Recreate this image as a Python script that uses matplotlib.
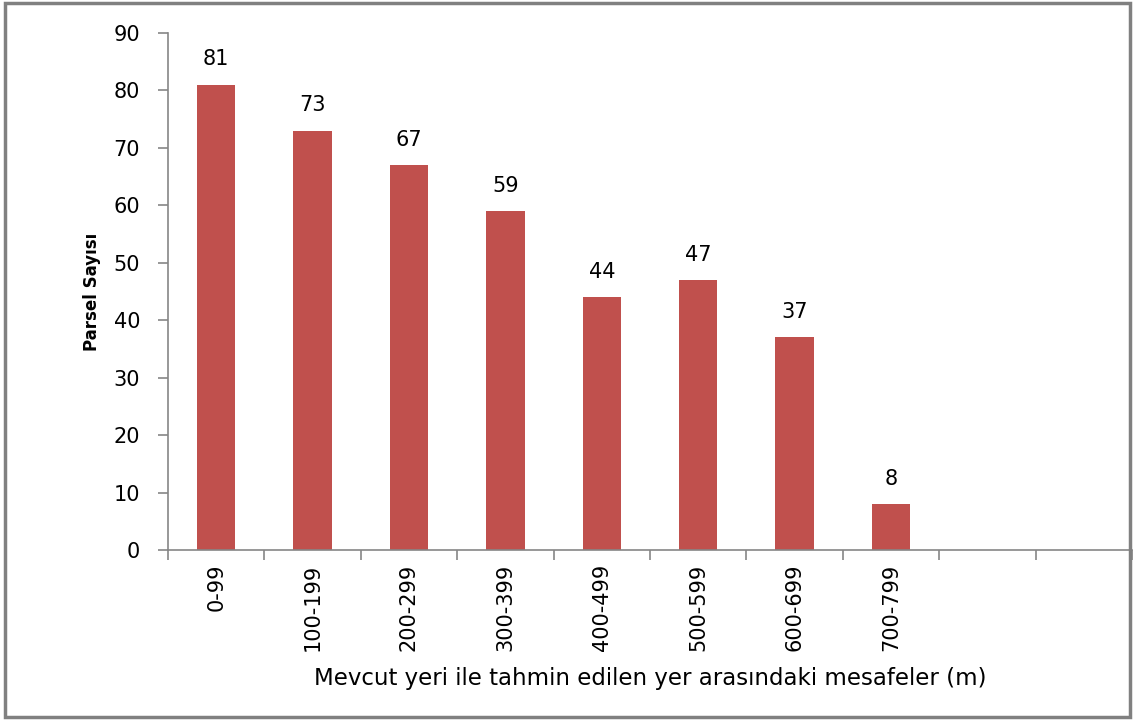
import matplotlib
matplotlib.use("Agg")
import matplotlib.pyplot as plt

categories = ["0-99", "100-199", "200-299", "300-399", "400-499", "500-599", "600-699", "700-799", "", ""]
values = [81, 73, 67, 59, 44, 47, 37, 8, None, None]
yticks = [0, 10, 20, 30, 40, 50, 60, 70, 80, 90]

bar_color = "#C0504D"
axis_color = "#868686"

fig = plt.figure(figsize=(11.33, 7.2), dpi=100)
ax = fig.add_axes([168/1133, 1-550/720, (1132-168)/1133, (550-33)/720])

n = len(categories)
xs = [i + 0.5 for i in range(n)]
for x, v in zip(xs, values):
    if v is None:
        continue
    ax.bar(x, v, width=0.4, color=bar_color, zorder=2)
    ax.annotate(str(v), (x, v), xytext=(0, 11), textcoords="offset points",
                ha="center", va="bottom", fontsize=15, color="black")

ax.set_xlim(0, n)
ax.set_ylim(0, 90)
ax.set_yticks(yticks)
ax.set_yticklabels([str(t) for t in yticks])
ax.set_xticks(range(n + 1))
ax.set_xticklabels([])
ax.set_xticks(xs, minor=True)
ax.set_xticklabels(categories, minor=True, rotation=90, fontsize=15, va="top")
ax.tick_params(axis="x", which="minor", length=0, pad=10)
ax.tick_params(axis="x", which="major", length=7, color=axis_color, width=1.2, direction="out")
ax.tick_params(axis="y", length=7, color=axis_color, width=1.2, direction="out", pad=13, labelsize=15)

for s in ["top", "right"]:
    ax.spines[s].set_visible(False)
for s in ["left", "bottom"]:
    ax.spines[s].set_color(axis_color)
    ax.spines[s].set_linewidth(1.2)

fig.text(92/1133, 1-292/720, "Parsel Sayısı", rotation=90, ha="center", va="center",
         fontsize=12, fontweight="bold")
fig.text(650/1133, 1-678/720, "Mevcut yeri ile tahmin edilen yer arasındaki mesafeler (m)",
         ha="center", va="center", fontsize=16.5)

border = plt.Rectangle((5/1133, 3/720), (1130-5)/1133, (718-4)/720, transform=fig.transFigure,
                       fill=False, edgecolor="#808080", linewidth=2.5)
fig.patches.append(border)

fig.savefig("out.png", dpi=100)
